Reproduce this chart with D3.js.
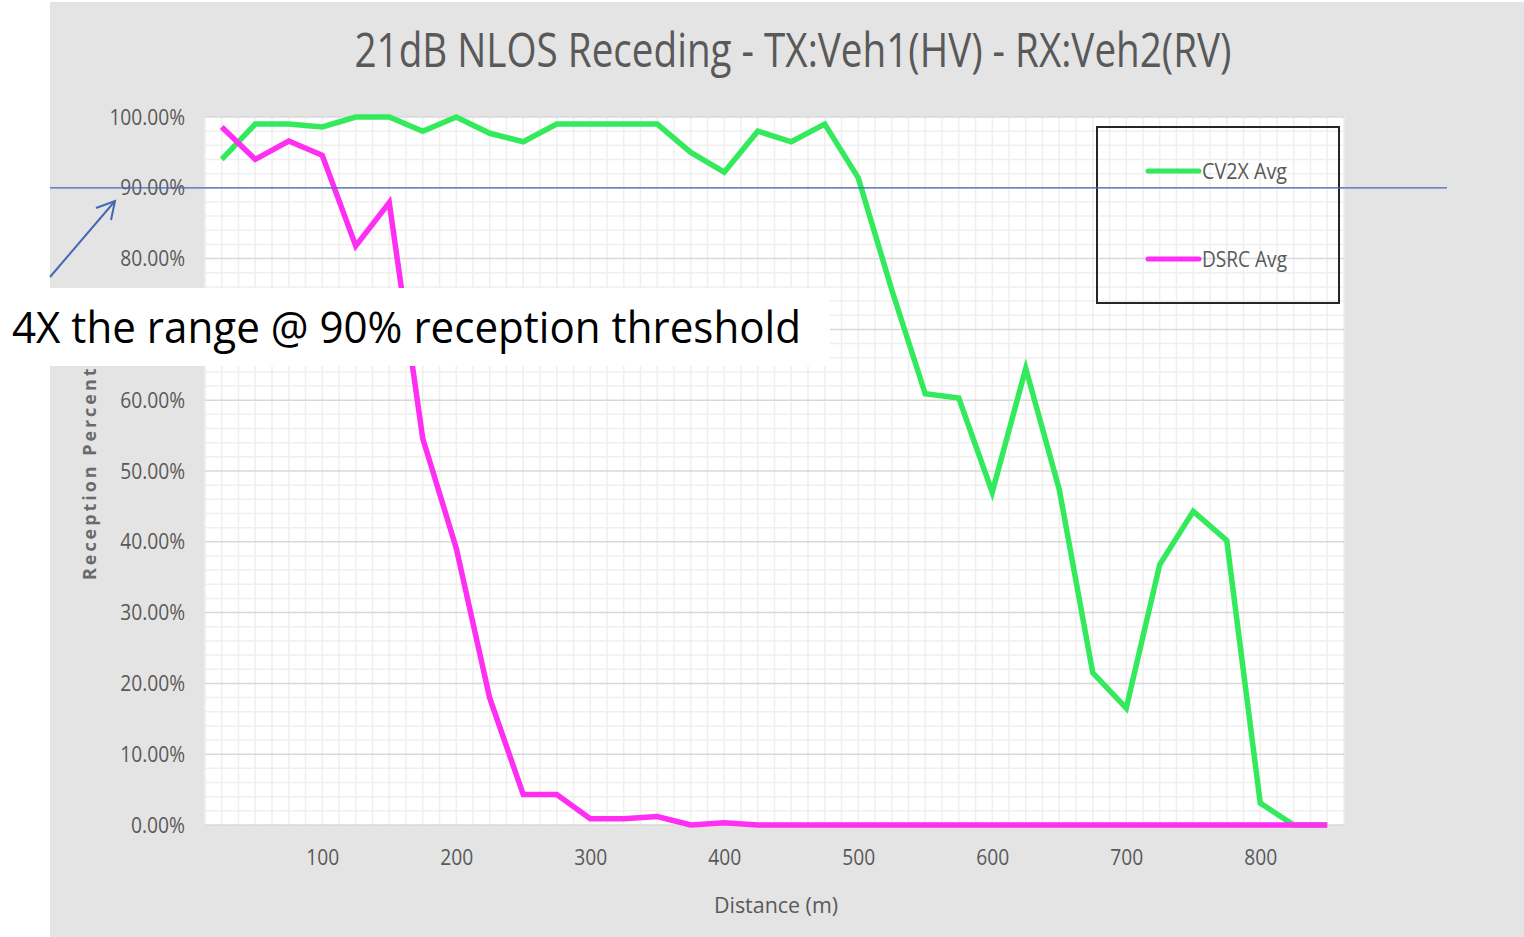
<!DOCTYPE html>
<html>
<head>
<meta charset="utf-8">
<script src="https://cdn.jsdelivr.net/npm/d3@7"></script>
<style>
  html, body { margin: 0; padding: 0; background: #ffffff; }
  svg { display: block; }
  text { font-family: "Open Sans", "Noto Sans", sans-serif; }
</style>
</head>
<body>
<svg id="chart" width="1524" height="937"></svg>
<script>
// ---- Data ----
const distances = [25, 50, 75, 100, 125, 150, 175, 200, 225, 250, 275, 300, 325, 350, 375, 400, 425,
                   450, 475, 500, 525, 550, 575, 600, 625, 650, 675, 700, 725, 750, 775, 800, 825, 850];
const cv2xAvg = [94, 99, 99, 98.6, 100, 100, 98, 100, 97.7, 96.5, 99, 99, 99, 99, 95, 92.2, 98,
                 96.5, 99, 91.4, 75.6, 60.9, 60.3, 47, 64.5, 47.4, 21.5, 16.5, 36.8, 44.3, 40.2, 3.1, 0, 0];
const dsrcAvg = [98.6, 94, 96.6, 94.6, 81.8, 87.9, 54.6, 39.1, 17.9, 4.3, 4.3, 0.9, 0.9, 1.2, 0, 0.3, 0,
                 0, 0, 0, 0, 0, 0, 0, 0, 0, 0, 0, 0, 0, 0, 0, 0, 0];
const xTickValues = [100, 200, 300, 400, 500, 600, 700, 800];
const yTickValues = [0, 10, 20, 30, 40, 50, 60, 70, 80, 90, 100];
const seriesNames = ["CV2X Avg", "DSRC Avg"];
const seriesColors = ["#33EA5C", "#FF2EF3"];
const titleText = "21dB NLOS Receding - TX:Veh1(HV) - RX:Veh2(RV)";
const xAxisTitle = "Distance (m)";
const yAxisTitle = "Reception Percentage";
const annotationText = "4X the range @ 90% reception threshold";
const thresholdValue = 90;

// ---- Layout ----
const svg = d3.select("#chart");
const plot = { left: 205, right: 1344, top: 117, bottom: 825 };
const x = d3.scaleLinear().domain([12.5, 862.5]).range([plot.left, plot.right]);
const y = d3.scaleLinear().domain([0, 100]).range([plot.bottom, plot.top]);
const textGray = "#595959";

// background panel
svg.append("rect").attr("x", 50).attr("y", 2).attr("width", 1474).attr("height", 935).attr("fill", "#e4e4e4");
// plot area
svg.append("rect").attr("x", plot.left).attr("y", plot.top)
  .attr("width", plot.right - plot.left).attr("height", plot.bottom - plot.top).attr("fill", "#ffffff");

// minor grid (horizontal every 2%, vertical every half category)
const grid = svg.append("g");
grid.selectAll("line.hmin").data(d3.range(0, 101, 2).filter(v => v % 10 !== 0)).join("line")
  .attr("x1", plot.left).attr("x2", plot.right)
  .attr("y1", d => y(d)).attr("y2", d => y(d))
  .attr("stroke", "#efefef").attr("stroke-width", 1.5);
grid.selectAll("line.vmin").data(d3.range(12.5, 863, 12.5)).join("line")
  .attr("y1", plot.top).attr("y2", plot.bottom)
  .attr("x1", d => x(d)).attr("x2", d => x(d))
  .attr("stroke", "#efefef").attr("stroke-width", 1.5);
grid.selectAll("line.hmaj").data(yTickValues).join("line")
  .attr("x1", plot.left).attr("x2", plot.right)
  .attr("y1", d => y(d)).attr("y2", d => y(d))
  .attr("stroke", "#d9d9d9").attr("stroke-width", 1.5);

// Y axis labels
const yAxis = d3.axisLeft(y).tickValues(yTickValues).tickSize(0).tickPadding(0)
  .tickFormat(d => d.toFixed(2) + "%");
const gy = svg.append("g").attr("transform", "translate(185,0)").call(yAxis);
gy.select(".domain").remove();
gy.selectAll("text").attr("font-size", 22).attr("fill", textGray)
  .attr("font-family", "'Open Sans', sans-serif")
  .attr("textLength", function() { return this.textContent.length * 10.8; })
  .attr("lengthAdjust", "spacingAndGlyphs");

// X axis labels
const xAxis = d3.axisBottom(x).tickValues(xTickValues).tickSize(0).tickPadding(0).tickFormat(d3.format("d"));
const gx = svg.append("g").attr("transform", "translate(0,849)").call(xAxis);
gx.select(".domain").remove();
gx.selectAll("text").attr("font-size", 22).attr("fill", textGray)
  .attr("font-family", "'Open Sans', sans-serif")
  .attr("textLength", function() { return this.textContent.length * 11; })
  .attr("lengthAdjust", "spacingAndGlyphs");

// axis titles
svg.append("text").attr("x", 776).attr("y", 913).attr("text-anchor", "middle")
  .attr("font-size", 22).attr("fill", textGray)
  .attr("textLength", 124).attr("lengthAdjust", "spacingAndGlyphs").text(xAxisTitle);
svg.append("text").attr("transform", "translate(96,580) rotate(-90)").attr("text-anchor", "start")
  .attr("font-size", 18).attr("font-weight", "bold").attr("fill", "#6a6a6a")
  .attr("textLength", 252).attr("lengthAdjust", "spacing").text(yAxisTitle);

// title
svg.append("text").attr("x", 793).attr("y", 67).attr("text-anchor", "middle")
  .attr("font-size", 47).attr("fill", textGray)
  .attr("textLength", 877).attr("lengthAdjust", "spacingAndGlyphs").text(titleText);

// series lines
const series = [cv2xAvg, dsrcAvg];
const line = d3.line().x((d, i) => x(distances[i])).y(d => y(d));
svg.append("g").selectAll("path").data(series).join("path")
  .attr("d", d => line(d)).attr("fill", "none")
  .attr("stroke", (d, i) => seriesColors[i]).attr("stroke-width", 5.5)
  .attr("stroke-linejoin", "miter").attr("stroke-linecap", "butt");

// legend
const lg = svg.append("g");
lg.append("rect").attr("x", 1097).attr("y", 127).attr("width", 242).attr("height", 176)
  .attr("fill", "none").attr("stroke", "#262626").attr("stroke-width", 2);
const legendY = [171, 259];
seriesNames.forEach((name, i) => {
  lg.append("line").attr("x1", 1148).attr("x2", 1199).attr("y1", legendY[i]).attr("y2", legendY[i])
    .attr("stroke", seriesColors[i]).attr("stroke-width", 5).attr("stroke-linecap", "round");
  lg.append("text").attr("x", 1202).attr("y", legendY[i] + 8).attr("font-size", 22).attr("fill", textGray)
    .attr("textLength", 85).attr("lengthAdjust", "spacingAndGlyphs").text(name);
});

// threshold line
const blue = "#4468B4";
svg.append("line").attr("x1", 50).attr("x2", 1447).attr("y1", y(thresholdValue)).attr("y2", y(thresholdValue))
  .attr("stroke", blue).attr("stroke-width", 1.3);

// arrow
svg.append("line").attr("x1", 50).attr("y1", 277).attr("x2", 115).attr("y2", 201)
  .attr("stroke", blue).attr("stroke-width", 2);
svg.append("path").attr("d", "M96,208 L115,201 L111,220")
  .attr("fill", "none").attr("stroke", blue).attr("stroke-width", 2);

// annotation box (covers part of the axis, as in the reference)
svg.append("rect").attr("x", 0).attr("y", 288).attr("width", 830).attr("height", 78).attr("fill", "#ffffff");
svg.append("text").attr("x", 12).attr("y", 343).attr("font-size", 43).attr("fill", "#000000")
  .attr("font-family", "'Open Sans', sans-serif")
  .attr("textLength", 789).attr("lengthAdjust", "spacingAndGlyphs").text(annotationText);
</script>
</body>
</html>
